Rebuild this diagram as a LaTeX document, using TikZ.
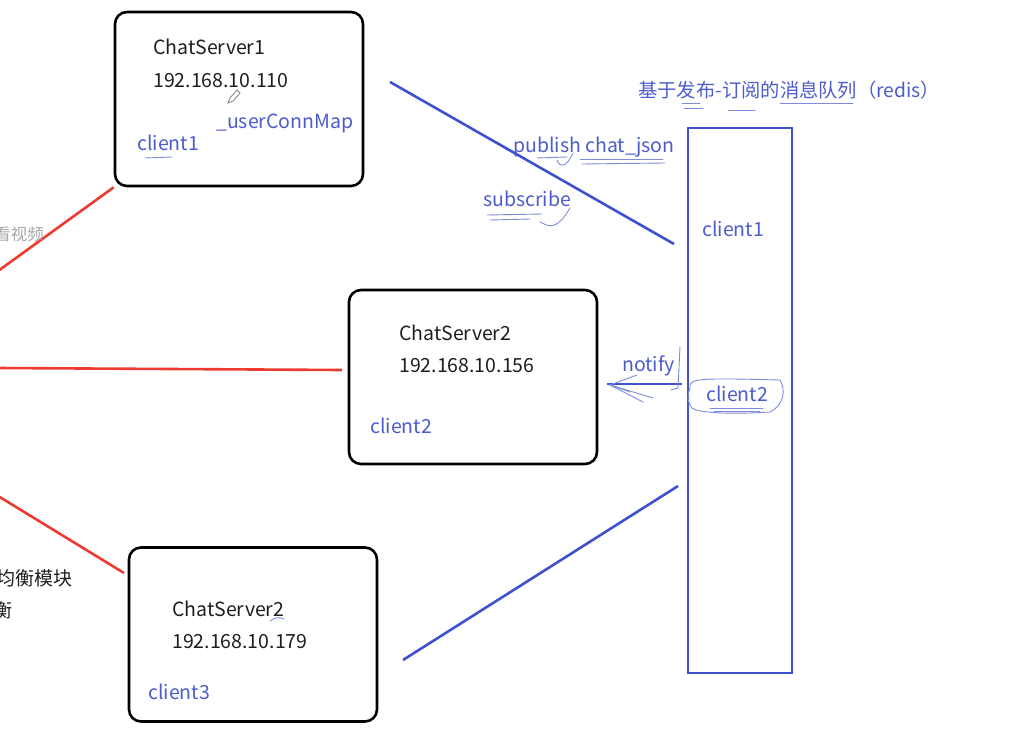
\documentclass[tikz,border=0pt]{standalone}
\usepackage{fontspec}
\setmainfont{Noto Sans CJK SC}
\usetikzlibrary{arrows.meta, positioning}

\definecolor{srvblue}{RGB}{62,82,208}
\definecolor{txtblue}{RGB}{76,92,204}
\definecolor{inkblue}{RGB}{125,140,218}
\definecolor{lbred}{RGB}{238,58,48}
\definecolor{txtdark}{RGB}{30,30,30}

\tikzset{
  server/.style={draw=black, line width=2.6pt, rounded corners=12pt,
    minimum width=248pt, minimum height=174pt},
  queue/.style={draw=srvblue, line width=2.6pt,
    minimum width=104pt, minimum height=545pt},
  lbl/.style={anchor=west, inner sep=0pt, text height=0.75em, text depth=0.2em,
    yshift=-5pt, font=\fontsize{19.5}{23}\selectfont, text=txtdark},
  bluelbl/.style={lbl, text=txtblue},
  bline/.style={draw=srvblue, line width=2.6pt},
  rline/.style={draw=lbred, line width=2.6pt},
  ink/.style={draw=inkblue, line width=0.9pt, line cap=round},
}

\begin{document}
\begin{tikzpicture}[x=1pt, y=-1pt]
  \useasboundingbox (0,0) rectangle (1025,730);

  % ==== Servers ====
  \node[server] (cs1) at (239,99) {};
  \node[server] (cs2) at (473,377) {};
  \node[server] (cs3) at (253,634.5) {};

  \node[lbl] (cs1name) at (153,47) {ChatServer1};
  \node[lbl] (cs1ip) at (153,80) {192.168.10.110};
  \node[bluelbl] (cs1cl) at (137,143) {client1};
  \node[bluelbl] (cs1map) at (216,121) {\_userConnMap};

  \node[lbl] (cs2name) at (399,333) {ChatServer2};
  \node[lbl] (cs2ip) at (399,365) {192.168.10.156};
  \node[bluelbl] (cs2cl) at (370,426) {client2};

  \node[lbl] (cs3name) at (172,609) {ChatServer2};
  \node[lbl] (cs3ip) at (172,641) {192.168.10.179};
  \node[bluelbl] (cs3cl) at (148,692) {client3};

  % ==== Message queue (redis) ====
  \node[queue] (redis) at (740,400.5) {};
  \node[bluelbl, font=\fontsize{19.3}{23}\selectfont] (title) at (638,90) {基于发布-订阅的消息队列（redis）};
  \node[bluelbl] (rcl1) at (702,229) {client1};
  \node[bluelbl] (rcl2) at (706,394) {client2};

  \node[bluelbl] (pub) at (513,145) {publish chat\_json};
  \node[bluelbl] (sub) at (483,199) {subscribe};
  \node[bluelbl] (ntf) at (622,364) {notify};

  % ==== Connectors ====
  \coordinate (pubA) at (390,82);
  \coordinate (pubB) at (674,244);
  \draw[bline] (pubA) -- (pubB);

  \coordinate (botA) at (403,660);
  \coordinate (botB) at (678,486);
  \draw[bline] (botA) -- (botB);

  \coordinate (ntfA) at (682,384);
  \coordinate (ntfB) at (607,384);
  \draw[bline] (ntfA) -- (ntfB);

  \coordinate (lb1) at (-2,271);
  \coordinate (lb2) at (-2,368);
  \coordinate (lb3) at (-2,496);
  \draw[rline] (lb1) -- (cs1.south west);
  \draw[rline] (lb2) -- (342,370);
  \draw[rline] (lb3) -- (124,573);

  % ==== Cut-off texts on the left ====
  \node[anchor=east, inner sep=0pt, text=gray!70, font=\fontsize{16.5}{19}\selectfont] (watch) at (44,234) {看视频};
  \node[anchor=east, inner sep=0pt, text=txtdark, font=\fontsize{19}{22}\selectfont] (lbmod) at (73,578) {均衡模块};
  \node[anchor=east, inner sep=0pt, text=txtdark, font=\fontsize{19}{22}\selectfont] (lbend) at (13,610) {衡};

  % ==== Hand marks ====
  \draw[ink] (145,158) -- (172,157);
  \draw[ink] (537,158) -- (567,157);
  \draw[ink] (557,160) .. controls (560,168) and (566,168) .. (573,153);
  \draw[ink] (580,159) -- (663,159);
  \draw[ink] (582,164) -- (665,163);
  \draw[ink] (487,215) -- (542,214);
  \draw[ink] (490,220) -- (530,219);
  \draw[ink] (540,222) .. controls (548,226) and (556,232) .. (570,208);
  \draw[ink] (682,103) -- (700,103);
  \draw[ink] (684,108) -- (703,108);
  \draw[ink] (728,110) -- (755,110);
  \draw[ink] (780,103) -- (853,103);
  \draw[ink] (270,621) .. controls (275,617) and (280,617) .. (284,619);
  \draw[ink] (690,388) .. controls (688,378) and (700,378) .. (780,380)
    .. controls (786,390) and (784,405) .. (770,412)
    .. controls (740,414) and (700,414) .. (692,408)
    .. controls (686,400) and (688,394) .. (690,388);
  \draw[ink] (710,408) -- (763,408);
  \draw[ink] (714,411) -- (760,411);
  \draw[ink] (610,385) -- (637,375);
  \draw[ink] (610,385) -- (653,398);
  \draw[ink] (610,385) -- (643,402);
  \draw[ink] (610,385) -- (630,392);
  \draw[ink] (680,347) -- (678,388) -- (671,390);
  \draw[gray, line width=0.8pt] (228,103) -- (230,98) -- (237,90) -- (240,93) -- (233,101) -- cycle;
\end{tikzpicture}
\end{document}
